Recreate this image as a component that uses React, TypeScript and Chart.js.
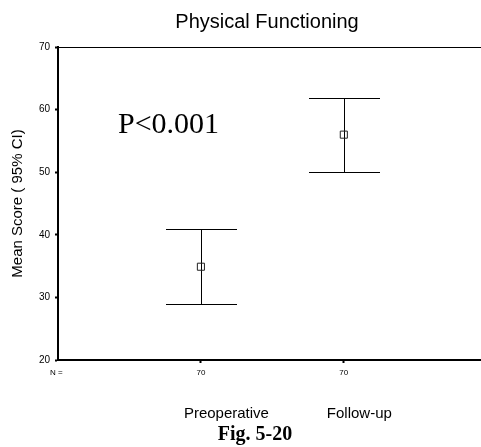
import React, { useEffect, useRef } from "react";
import { Chart, registerables } from "chart.js";

Chart.register(...registerables);

const chartTitle = "Physical Functioning";
const yAxisTitle = "Mean Score ( 95% CI)";
const categories = ["Preoperative", "Follow-up"];
const counts = [70, 70];
const means = [34.9, 56.0];
const lowerCI = [28.9, 50.1];
const upperCI = [40.9, 61.8];
const yTicks = [20, 30, 40, 50, 60, 70];
const pLabel = "P<0.001";
const figLabel = "Fig. 5-20";
const nLabel = "N =";

const SANS = 'Arial, "Liberation Sans", sans-serif';
const SERIF = '"Times New Roman", "Liberation Serif", serif';

export default function App() {
  const canvasRef = useRef<HTMLCanvasElement | null>(null);

  useEffect(() => {
    const canvas = canvasRef.current;
    if (!canvas) return;

    const errorBarPlugin = {
      id: "errorBars",
      beforeDatasetsDraw(chart: any) {
        const { ctx, scales } = chart;
        const xs = scales.x;
        const ys = scales.y;
        ctx.save();
        ctx.strokeStyle = "#000";
        ctx.lineWidth = 1;
        const half = 35.5;
        categories.forEach((_, i) => {
          const x = Math.round(xs.getPixelForValue(i + 1)) + 0.5;
          const yl = Math.round(ys.getPixelForValue(lowerCI[i])) + 0.5;
          const yu = Math.round(ys.getPixelForValue(upperCI[i])) + 0.5;
          ctx.beginPath();
          ctx.moveTo(x, yu);
          ctx.lineTo(x, yl);
          ctx.moveTo(x - half, yu);
          ctx.lineTo(x + half, yu);
          ctx.moveTo(x - half, yl);
          ctx.lineTo(x + half, yl);
          ctx.stroke();
        });
        ctx.restore();
      },
    };

    const textPlugin = {
      id: "texts",
      afterDraw(chart: any) {
        const { ctx, chartArea, scales } = chart;
        const xs = scales.x;
        ctx.save();
        // top frame line
        ctx.strokeStyle = "#000";
        ctx.lineWidth = 1;
        ctx.beginPath();
        ctx.moveTo(chartArea.left, chartArea.top + 0.5);
        ctx.lineTo(chartArea.right, chartArea.top + 0.5);
        ctx.stroke();

        ctx.fillStyle = "#000";
        // title
        ctx.font = `20px ${SANS}`;
        ctx.textAlign = "center";
        ctx.textBaseline = "alphabetic";
        ctx.fillText(chartTitle, 267, 28);

        // P value annotation
        ctx.font = `30px ${SERIF}`;
        ctx.textAlign = "left";
        ctx.fillText(pLabel, chartArea.left + 60, 133);

        // N = and counts
        ctx.font = `8px ${SANS}`;
        ctx.textBaseline = "middle";
        ctx.textAlign = "left";
        ctx.fillText(nLabel, chartArea.left - 8, chartArea.bottom + 13);
        ctx.textAlign = "center";
        counts.forEach((c, i) => {
          ctx.fillText(String(c), xs.getPixelForValue(i + 1), chartArea.bottom + 13);
        });

        // category labels
        ctx.font = `15px ${SANS}`;
        ctx.textAlign = "left";
        ctx.textBaseline = "alphabetic";
        categories.forEach((c, i) => {
          ctx.fillText(c, xs.getPixelForValue(i + 1) - 17, 418);
        });

        // figure caption
        ctx.font = `bold 20px ${SERIF}`;
        ctx.textAlign = "center";
        ctx.fillText(figLabel, 255, 440);
        ctx.restore();
      },
    };

    const chart = new Chart(canvas, {
      type: "scatter",
      data: {
        datasets: [
          {
            data: means.map((m, i) => ({ x: i + 1, y: m })),
            pointStyle: "rect",
            pointRadius: 5,
            pointBorderWidth: 1,
            pointBorderColor: "#222",
            pointBackgroundColor: "rgba(0,0,0,0)",
            showLine: false,
          },
        ],
      },
      options: {
        animation: false,
        responsive: false,
        maintainAspectRatio: false,
        layout: { autoPadding: false, padding: { top: 47, left: 0, right: 0, bottom: 0 } },
        plugins: {
          legend: { display: false },
          tooltip: { enabled: false },
          title: { display: false },
        },
        scales: {
          x: {
            type: "linear",
            min: 0,
            max: 2.96,
            afterBuildTicks: (s: any) => {
              s.ticks = categories.map((_, i) => ({ value: i + 1 }));
            },
            afterFit: (s: any) => {
              s.height = 87;
            },
            ticks: { display: false },
            grid: {
              drawOnChartArea: false,
              drawTicks: true,
              tickLength: 3,
              tickWidth: 2,
              tickColor: "#000",
              color: "#000",
            },
            border: { display: true, color: "#000", width: 2 },
          },
          y: {
            type: "linear",
            min: 20,
            max: 70,
            afterBuildTicks: (s: any) => {
              s.ticks = yTicks.map((v) => ({ value: v }));
            },
            afterFit: (s: any) => {
              s.width = 58;
            },
            ticks: {
              color: "#000",
              font: { family: SANS, size: 10 },
              padding: 5,
            },
            grid: {
              drawOnChartArea: false,
              drawTicks: true,
              tickLength: 3,
              tickWidth: 2,
              tickColor: "#000",
              color: "#000",
            },
            border: { display: true, color: "#000", width: 2 },
            title: {
              display: true,
              text: yAxisTitle,
              color: "#000",
              font: { family: SANS, size: 15 },
              padding: { top: 9, bottom: 0 },
            },
          },
        },
      },
      plugins: [errorBarPlugin, textPlugin],
    });

    return () => {
      chart.destroy();
    };
  }, []);

  return (
    <div style={{ position: "absolute", left: 0, top: 0, width: 481, height: 447, background: "#fff" }}>
      <canvas ref={canvasRef} width={481} height={447} style={{ display: "block", width: 481, height: 447 }} />
    </div>
  );
}
